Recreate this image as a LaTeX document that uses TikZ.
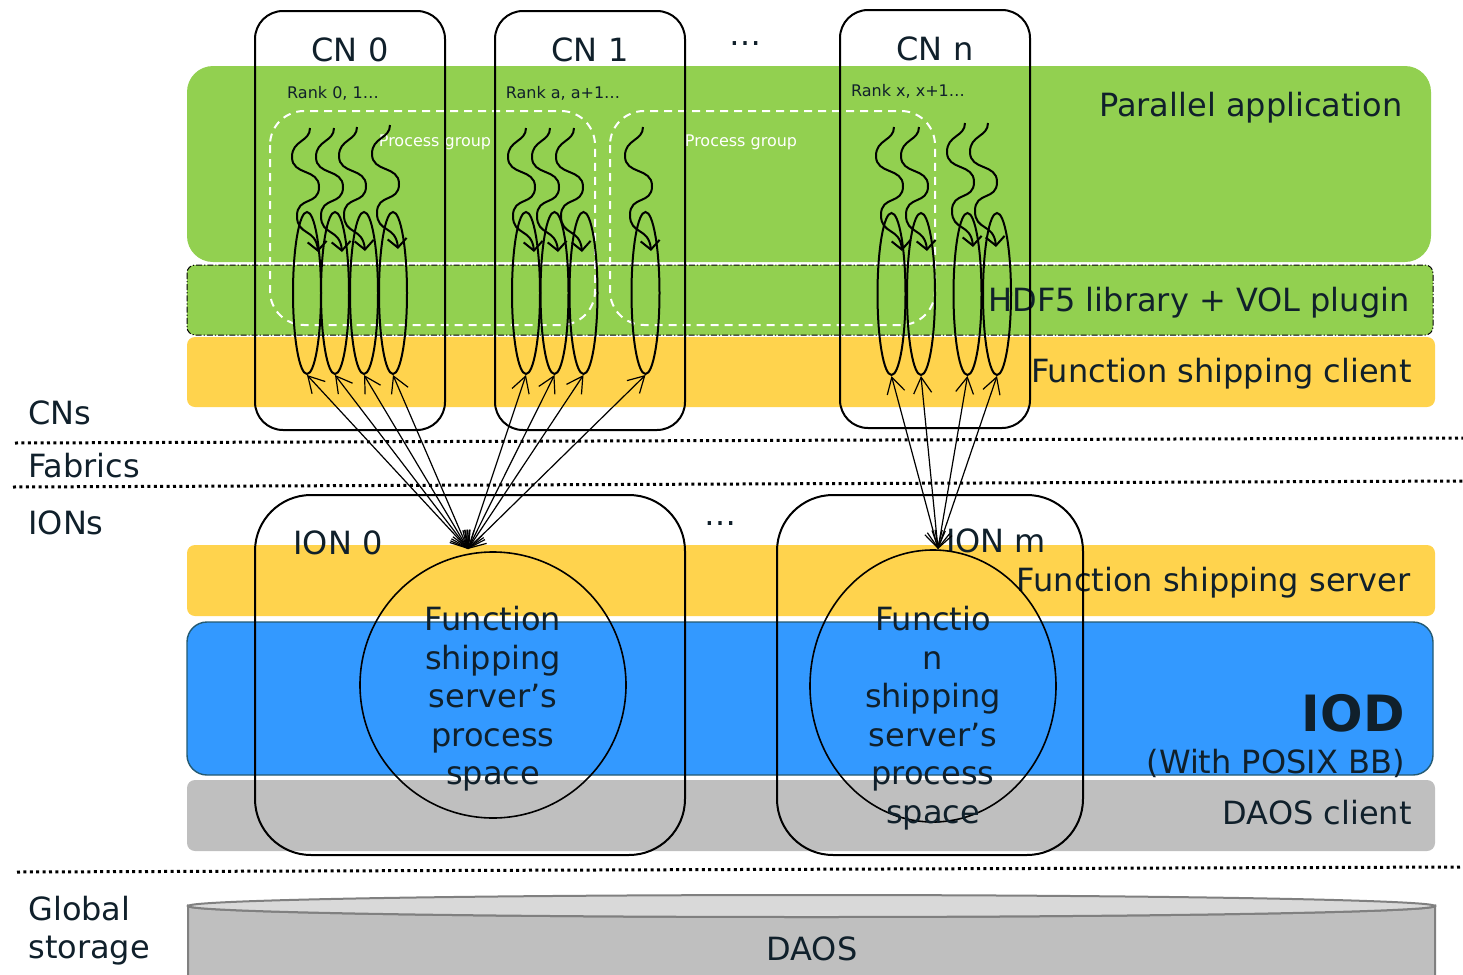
\documentclass[tikz,border=0pt]{standalone}
\usepackage{fontspec}
\setmainfont{DejaVu Sans}
\usetikzlibrary{arrows.meta,shapes.geometric}
\definecolor{appgreen}{HTML}{92D050}
\definecolor{fsyellow}{HTML}{FFD34D}
\definecolor{iodblue}{HTML}{3399FF}
\definecolor{iodline}{HTML}{245A72}
\definecolor{clgray}{HTML}{BFBFBF}
\definecolor{cyltop}{HTML}{D9D9D9}
\definecolor{cylline}{HTML}{808080}
\definecolor{txt}{HTML}{10202B}
\tikzset{
  lbl/.style={font=\fontsize{16}{19.25}\selectfont, text=txt, inner sep=0pt},
  smalllbl/.style={font=\fontsize{8}{9}\selectfont, inner sep=0pt},
  cnbox/.style={draw=black, line width=1pt, rounded corners=14pt},
  ionbox/.style={draw=black, line width=1pt, rounded corners=28pt},
  thr/.style={draw=black, ellipse, line width=1pt, minimum width=14pt, minimum height=81pt, inner sep=0pt},
  link/.style={line width=0.6pt, {Straight Barb[length=8pt,width=9pt]}-{Straight Barb[length=8pt,width=9pt]}},
  dotline/.style={line width=1.5pt, dash pattern=on 1.5pt off 1.7pt},
  pgbox/.style={draw=white, line width=1pt, dash pattern=on 4pt off 3pt, rounded corners=17pt},
  threadline/.style={line width=1pt, -{Straight Barb[length=4.5pt,width=9.5pt]}},
  thread/.pic={\draw[threadline] (0,0) .. controls (0,14) and (-18,12) .. (-18,29)
     .. controls (-18,48) and (9,40) .. (9,59)
     .. controls (9,78) and (-13,68) .. (-13,88)
     .. controls (-13,108) and (6,100) .. (8,124);}
}
\begin{document}
\begin{tikzpicture}[x=0.5pt,y=-0.5pt]
\useasboundingbox (0,0) rectangle (1463,975);

% ---------- CN layers ----------
\fill[appgreen, rounded corners=13pt] (187,66) rectangle (1431,262);
\filldraw[fill=appgreen, draw=black, line width=0.5pt, dash pattern=on 3pt off 1pt on 0.6pt off 1pt, rounded corners=4pt] (187,265) rectangle (1433,335);
\fill[fsyellow, rounded corners=4pt] (187,337) rectangle (1435,407);

\node[lbl, anchor=base east] (lapp) at (1403,116) {Parallel application};
\node[lbl, anchor=base east] (lhdf) at (1410,311) {HDF5 library + VOL plugin};
\node[lbl, anchor=base east] (lfsc) at (1412,382) {Function shipping client};

% process groups
\draw[pgbox] (270,111) rectangle (595,325);
\draw[pgbox] (610,111) rectangle (935,325);
\node[smalllbl, text=white, anchor=base] (pg1) at (435,146) {Process group};
\node[smalllbl, text=white, anchor=base] (pg2) at (741,146) {Process group};

% CN boxes
\draw[cnbox] (255,11) rectangle (445,430);
\draw[cnbox] (495,11) rectangle (685,430);
\draw[cnbox] (840,10) rectangle (1030,428);
\node[lbl, anchor=base] (cn0) at (350,61) {CN 0};
\node[lbl, anchor=base] (cn1) at (590,61) {CN 1};
\node[lbl, anchor=base] (cnn) at (935,60) {CN n};
\node[lbl] (dots1) at (745,44) {\dots};
\node[smalllbl, text=txt, anchor=base] (r0) at (333,98) {Rank 0, 1\dots};
\node[smalllbl, text=txt, anchor=base] (r1) at (563,98) {Rank a, a+1\dots};
\node[smalllbl, text=txt, anchor=base] (rn) at (908,96) {Rank x, x+1\dots};

% process ellipses
\node[thr] (a1) at (307,293) {};
\node[thr] (a2) at (335,293) {};
\node[thr] (a3) at (364,293) {};
\node[thr] (a4) at (393,293) {};
\node[thr] (b1) at (526,293) {};
\node[thr] (b2) at (554.5,293) {};
\node[thr] (b3) at (583.5,293) {};
\node[thr] (b4) at (645.5,293) {};
\node[thr] (c1) at (891.5,294) {};
\node[thr] (c2) at (921,294) {};
\node[thr] (c3) at (967.5,294) {};
\node[thr] (c4) at (997,294) {};

% threads
\pic at (310,128) {thread};
\pic at (334,128) {thread};
\pic at (357,127) {thread};
\pic at (390,125) {thread};
\pic at (526,128) {thread};
\pic at (550,128) {thread};
\pic at (574,128) {thread};
\pic at (643,127) {thread};
\pic at (894,127) {thread};
\pic at (919,127) {thread};
\pic at (965,123) {thread};
\pic at (988,123) {thread};

% ---------- separators and left labels ----------
\draw[dotline] (15,443) -- (1463,438);
\draw[dotline] (13,487) -- (1463,481);
\draw[dotline] (17,872) -- (1460,867);
\node[lbl, anchor=base west] (lcn) at (28,424) {CNs};
\node[lbl, anchor=base west] (lfab) at (28,477) {Fabrics};
\node[lbl, anchor=base west] (lion) at (28,534) {IONs};
\node[lbl, anchor=base west] (lglob) at (28,920) {Global};
\node[lbl, anchor=base west] (lstor) at (28,958) {storage};

% ---------- ION layers ----------
\fill[fsyellow, rounded corners=4pt] (187,545) rectangle (1435,616);
\filldraw[fill=iodblue, draw=iodline, line width=0.7pt, rounded corners=10pt] (187,622) rectangle (1433,775);
\fill[clgray, rounded corners=4pt] (187,780) rectangle (1435,851);
\node[lbl, anchor=base east] (lfss) at (1411,591) {Function shipping server};
\node[lbl, anchor=base east, font=\fontsize{25}{28}\selectfont\bfseries] (liod) at (1405,731) {IOD};
\node[lbl, anchor=base east] (lposix) at (1405,773) {(With POSIX BB)};
\node[lbl, anchor=base east] (ldc) at (1412,824) {DAOS client};

% ION boxes
\draw[ionbox] (255,495) rectangle (685,855);
\draw[ionbox] (777,495) rectangle (1083,855);
\node[lbl, anchor=base] (ion0) at (338,554) {ION 0};
\node[lbl, anchor=base] (ionm) at (996,552) {ION m};
\node[lbl] (dots2) at (720,524) {\dots};

% function shipping server process spaces
\node[draw=black, line width=0.8pt, circle, minimum size=133pt, inner sep=0pt] (sp0) at (493,685) {};
\node[draw=black, line width=0.8pt, ellipse, minimum width=123pt, minimum height=136pt, inner sep=0pt] (spm) at (933,686) {};
\node[lbl, align=center] (sp0t) at (493,699) {Function\\shipping\\server’s\\process\\space};
\node[lbl, align=center] (spmt) at (933,718) {Functio\\n\\shipping\\server’s\\process\\space};

% hubs
\coordinate (hub0) at (468,549);
\coordinate (hubm) at (938,549);

% links
\foreach \e in {a1,a2,a3,a4,b1,b2,b3,b4}{\draw[link] (hub0) -- (\e.south);}
\foreach \e in {c1,c2,c3,c4}{\draw[link] (hubm) -- (\e.south);}

% ---------- DAOS ----------
\draw[draw=cylline, line width=1pt, fill=clgray] (188,990) -- (188,906) arc[start angle=180, end angle=0, x radius=623.5, y radius=11] -- (1435,990);
\draw[draw=cylline, line width=1pt, fill=cyltop] (811.5,906) ellipse [x radius=623.5, y radius=11];
\node[lbl, anchor=base] (ldaos) at (812,960) {DAOS};
\end{tikzpicture}
\end{document}
